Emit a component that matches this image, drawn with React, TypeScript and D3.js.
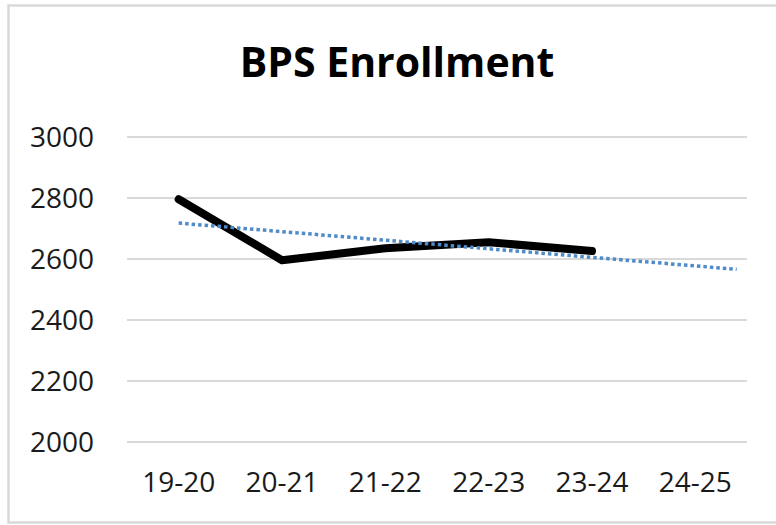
import React, { useEffect, useRef } from 'react';
import * as d3 from 'd3';

const categories = ['19-20', '20-21', '21-22', '22-23', '23-24', '24-25'];
const enrollment = [2796, 2596, 2635, 2655, 2626];
const yTicks = [2000, 2200, 2400, 2600, 2800, 3000];
const title = 'BPS Enrollment';

const App = () => {
  const svgRef = useRef(null);

  useEffect(() => {
    if (!svgRef.current) return;
    const svg = d3.select(svgRef.current);
    svg.selectAll('*').remove();

    const width = 776;
    const plot = { left: 127, right: 747, top: 137, bottom: 442 };

    // chart frame
    svg.append('rect')
      .attr('x', 8.5)
      .attr('y', 5.5)
      .attr('width', width + 10)
      .attr('height', 517)
      .attr('fill', '#fff')
      .attr('stroke', '#d9d9d9')
      .attr('stroke-width', 2.5);

    const x = d3.scaleBand()
      .domain(categories)
      .range([plot.left, plot.right]);
    const y = d3.scaleLinear()
      .domain([2000, 3000])
      .range([plot.bottom, plot.top]);
    const cx = (i) => x(categories[0]) + x.bandwidth() * (i + 0.5);

    // title
    svg.append('text')
      .attr('x', 397)
      .attr('y', 77)
      .attr('text-anchor', 'middle')
      .style('font-family', '"Open Sans", sans-serif')
      .style('font-weight', 700)
      .style('font-size', '41px')
      .style('fill', '#000')
      .text(title);

    // gridlines + axis labels
    const g = svg.append('g');
    g.selectAll('line.grid')
      .data(yTicks)
      .join('line')
      .attr('class', 'grid')
      .attr('x1', plot.left)
      .attr('x2', plot.right)
      .attr('y1', (d) => y(d))
      .attr('y2', (d) => y(d))
      .attr('stroke', '#d9d9d9')
      .attr('stroke-width', 2);

    g.selectAll('text.ylab')
      .data(yTicks)
      .join('text')
      .attr('class', 'ylab')
      .attr('x', 94)
      .attr('y', (d) => y(d))
      .attr('dy', '0.36em')
      .attr('text-anchor', 'end')
      .style('font-family', '"Open Sans", sans-serif')
      .style('font-size', '28px')
      .style('fill', '#1a1a1a')
      .text((d) => d);

    g.selectAll('text.xlab')
      .data(categories)
      .join('text')
      .attr('class', 'xlab')
      .attr('x', (d) => x(d) + x.bandwidth() / 2)
      .attr('y', 492)
      .attr('text-anchor', 'middle')
      .style('font-family', '"Open Sans", sans-serif')
      .style('font-size', '28px')
      .style('fill', '#1a1a1a')
      .text((d) => d);

    // linear trendline (least squares), forward forecast 0.4 period
    const xs = enrollment.map((_, i) => i);
    const mx = d3.mean(xs);
    const my = d3.mean(enrollment);
    const slope = d3.sum(xs, (xi, i) => (xi - mx) * (enrollment[i] - my)) /
      d3.sum(xs, (xi) => (xi - mx) ** 2);
    const intercept = my - slope * mx;
    const tEnd = categories.length - 1 + 0.4;
    const trend = [0, tEnd].map((t) => [t, intercept + slope * t]);

    svg.append('path')
      .datum(enrollment)
      .attr('fill', 'none')
      .attr('stroke', '#000')
      .attr('stroke-width', 8)
      .attr('stroke-linejoin', 'round')
      .attr('stroke-linecap', 'round')
      .attr('d', d3.line().x((d, i) => cx(i)).y((d) => y(d)));

    svg.append('path')
      .datum(trend)
      .attr('fill', 'none')
      .attr('stroke', '#4f8ac9')
      .attr('stroke-width', 3.5)
      .attr('stroke-dasharray', '3.5 3')
      .attr('d', d3.line().x((d) => cx(d[0])).y((d) => y(d[1])));
  }, []);

  return (
    <svg
      ref={svgRef}
      width={776}
      height={525}
      style={{ position: 'absolute', left: 0, top: 0, display: 'block' }}
    />
  );
};

export default App;
